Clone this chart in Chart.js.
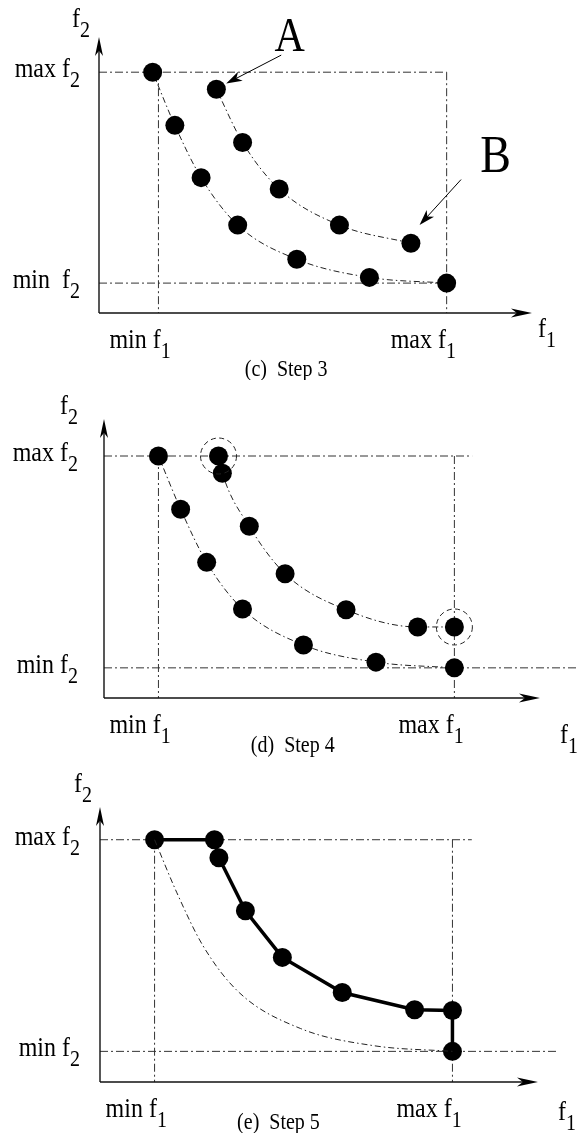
<!DOCTYPE html>
<html>
<head>
<meta charset="utf-8">
<script src="https://cdn.jsdelivr.net/npm/chart.js@4/dist/chart.umd.min.js"></script>
<style>
  html, body { margin: 0; padding: 0; background: #fff; }
  .panel { position: absolute; left: 0; }
</style>
</head>
<body>
<canvas id="step3" class="panel" style="top:0px" width="578" height="380"></canvas>
<canvas id="step4" class="panel" style="top:380px" width="578" height="380"></canvas>
<canvas id="step5" class="panel" style="top:760px" width="578" height="373"></canvas>
<script>
// Values are normalised: min f1 = 0, max f1 = 1, min f2 = 0, max f2 = 1
let step3LowerF1 = [-0.02, 0.057, 0.148, 0.275, 0.48, 0.732, 1.0];
let step3LowerF2 = [1.0, 0.748, 0.5, 0.275, 0.113, 0.027, 0.0];
let step3UpperF1 = [0.201, 0.292, 0.419, 0.628, 0.876];
let step3UpperF2 = [0.919, 0.667, 0.446, 0.275, 0.189];

let step4LowerF1 = [0.0, 0.075, 0.163, 0.284, 0.49, 0.735, 1.0];
let step4LowerF2 = [1.0, 0.749, 0.498, 0.278, 0.108, 0.027, 0.0];
let step4UpperF1 = [0.203, 0.216, 0.307, 0.428, 0.634, 0.876, 1.0];
let step4UpperF2 = [1.0, 0.919, 0.668, 0.444, 0.274, 0.193, 0.193];
let step4CircledF1 = [0.203, 1.0];
let step4CircledF2 = [1.0, 0.193];

let step5FrontF1 = [0.0, 0.201, 0.216, 0.305, 0.429, 0.63, 0.873, 1.0, 1.0];
let step5FrontF2 = [1.0, 1.0, 0.915, 0.664, 0.444, 0.278, 0.197, 0.193, 0.0];

let f1Marks = ['min f', 'max f'];   // at f1 = 0 and f1 = 1
let f2Marks = ['min  f', 'max f'];  // at f2 = 0 and f2 = 1
let captions = ['(c)  Step 3', '(d)  Step 4', '(e)  Step 5'];

// pointer arrows of step 3: [fromF1, fromF2, toF1, toF2]
let pointerA = [0.426, 1.081, 0.235, 0.946];
let pointerB = [1.05, 0.491, 0.906, 0.275];

const SERIF = '"Liberation Serif", "DejaVu Serif", serif';
const STRETCH = 1.15;  // the scanned text is a bit taller than Times

// layout of each panel, in canvas pixels
let panels = [
    { id: 'step3', height: 380, f1Px: [154, 452], f2Px: [288, 66], axisPx: [99, 313], tipPx: [532, 37],
      maxF2To: 1.0, minF2To: 1.0, f2Right: 80, f2Top: [72, 27], f1Right: [538, 337], captionF1: 0.443, captionY: 376,
      minF2Text: f2Marks[0] },
    { id: 'step4', height: 380, f1Px: [154, 460], f2Px: [293, 70], axisPx: [104, 318], tipPx: [540, 39],
      maxF2To: 1.06, minF2To: 1.45, f2Right: 78, f2Top: [60, 34], f1Right: [560, 363], captionF1: 0.454, captionY: 372,
      minF2Text: 'min f' },
    { id: 'step5', height: 373, f1Px: [150, 458], f2Px: [297, 74], axisPx: [100, 322], tipPx: [538, 47],
      maxF2To: 1.065, minF2To: 1.354, f2Right: 80, f2Top: [74, 32], f1Right: [558, 360], captionF1: 0.416, captionY: 369,
      minF2Text: 'min f' }
];

function toPoints(xs, ys) {
    return xs.map((x, i) => ({ x: x, y: ys[i] }));
}

function tallText(ctx, text, x, y) {
    ctx.save();
    ctx.translate(x, y);
    ctx.scale(1, STRETCH);
    ctx.fillText(text, 0, 0);
    ctx.restore();
}

function subText(ctx, text, sub, x, y, size, align) {
    let subSize = Math.round(size * 0.82);
    ctx.font = size + 'px ' + SERIF;
    let w = ctx.measureText(text).width;
    ctx.font = subSize + 'px ' + SERIF;
    let ws = ctx.measureText(sub).width;
    let left = align === 'right' ? x - w - ws : x;
    ctx.textAlign = 'left';
    ctx.textBaseline = 'alphabetic';
    ctx.font = size + 'px ' + SERIF;
    tallText(ctx, text, left, y);
    ctx.font = subSize + 'px ' + SERIF;
    tallText(ctx, sub, left + w, y + size * 0.42);
}

function arrowHead(ctx, x0, y0, x1, y1, len, half) {
    let a = Math.atan2(y1 - y0, x1 - x0);
    let c = Math.cos(a), s = Math.sin(a);
    ctx.beginPath();
    ctx.moveTo(x1, y1);
    ctx.lineTo(x1 - len * c - half * s, y1 - len * s + half * c);
    ctx.lineTo(x1 - len * 0.72 * c, y1 - len * 0.72 * s);
    ctx.lineTo(x1 - len * c + half * s, y1 - len * s - half * c);
    ctx.closePath();
    ctx.fill();
}

function line(ctx, x0, y0, x1, y1, dash, color, width) {
    ctx.save();
    ctx.strokeStyle = color;
    ctx.lineWidth = width;
    ctx.setLineDash(dash);
    ctx.beginPath();
    ctx.moveTo(x0, y0);
    ctx.lineTo(x1, y1);
    ctx.stroke();
    ctx.restore();
}

const guideDash = [8, 3, 2, 3];

let diagramPlugin = {
    id: 'diagram',
    beforeDatasetsDraw(chart) {
        let p = chart.options.plugins.diagram.panel;
        let ctx = chart.ctx;
        let xs = chart.scales.x, ys = chart.scales.y;
        let ox = p.axisPx[0], oy = p.axisPx[1];
        // guide lines at min / max of each objective
        let x0 = xs.getPixelForValue(0), x1 = xs.getPixelForValue(1);
        let y0 = ys.getPixelForValue(0), y1 = ys.getPixelForValue(1);
        line(ctx, ox, y1, xs.getPixelForValue(p.maxF2To), y1, guideDash, '#333', 1);
        line(ctx, ox, y0, xs.getPixelForValue(p.minF2To), y0, guideDash, '#333', 1);
        line(ctx, x0, y1, x0, oy, guideDash, '#333', 1);
        line(ctx, x1, y1, x1, oy, guideDash, '#333', 1);
        // axes with arrows
        line(ctx, ox, oy, p.tipPx[0] - 10, oy, [], '#111', 1.4);
        line(ctx, ox, oy, ox, p.tipPx[1] + 10, [], '#111', 1.4);
        ctx.fillStyle = '#000';
        arrowHead(ctx, ox, oy, p.tipPx[0], oy, 21, 4.5);
        arrowHead(ctx, ox, oy, ox, p.tipPx[1], 19, 4);
    },
    afterDatasetsDraw(chart) {
        let p = chart.options.plugins.diagram.panel;
        let idx = chart.options.plugins.diagram.index;
        let ctx = chart.ctx;
        let xs = chart.scales.x, ys = chart.scales.y;
        let oy = p.axisPx[1];
        ctx.save();
        ctx.fillStyle = '#000';
        // axis names
        subText(ctx, 'f', '2', p.f2Top[0], p.f2Top[1], 24, 'left');
        subText(ctx, 'f', '1', p.f1Right[0], p.f1Right[1], 24, 'left');
        // f2 marks
        subText(ctx, f2Marks[1], '2', p.f2Right, ys.getPixelForValue(1) + 5, 24, 'right');
        subText(ctx, p.minF2Text, '2', p.f2Right, ys.getPixelForValue(0) + 5, 24, 'right');
        // f1 marks
        subText(ctx, f1Marks[0], '1', xs.getPixelForValue(0) - 49, oy + 35, 24, 'left');
        subText(ctx, f1Marks[1], '1', xs.getPixelForValue(1) - 56, oy + 35, 24, 'left');
        // caption
        ctx.font = '20px ' + SERIF;
        ctx.textAlign = 'center';
        tallText(ctx, captions[idx], xs.getPixelForValue(p.captionF1), p.captionY);

        if (idx === 0) {
            [[pointerA, 'A', 0.455, 1.162, 42], [pointerB, 'B', 1.17, 0.595, 46]].forEach(([ptr, label, lx, ly, size]) => {
                let ax0 = xs.getPixelForValue(ptr[0]), ay0 = ys.getPixelForValue(ptr[1]);
                let ax1 = xs.getPixelForValue(ptr[2]), ay1 = ys.getPixelForValue(ptr[3]);
                line(ctx, ax0, ay0, ax1 + (ax0 - ax1) * 0.15, ay1 + (ay0 - ay1) * 0.15, [], '#000', 1);
                arrowHead(ctx, ax0, ay0, ax1, ay1, 16, 5);
                ctx.font = size + 'px ' + SERIF;
                ctx.textAlign = 'center';
                ctx.textBaseline = 'middle';
                tallText(ctx, label, xs.getPixelForValue(lx), ys.getPixelForValue(ly));
            });
        }
        if (idx === 1) {
            step4CircledF1.forEach((v, i) => {
                ctx.save();
                ctx.strokeStyle = '#222';
                ctx.lineWidth = 1;
                ctx.setLineDash([5, 3.5]);
                ctx.beginPath();
                ctx.arc(xs.getPixelForValue(v), ys.getPixelForValue(step4CircledF2[i]), 18, 0, Math.PI * 2);
                ctx.stroke();
                ctx.restore();
            });
        }
        ctx.restore();
    }
};

function curve(xs, ys, showPoints) {
    return {
        data: toPoints(xs, ys),
        showLine: true,
        borderColor: '#222',
        borderWidth: 1,
        borderDash: [6, 3, 1.5, 3],
        cubicInterpolationMode: 'monotone',
        pointRadius: showPoints ? 9.5 : 0,
        pointBackgroundColor: '#000',
        pointBorderWidth: 0,
        clip: false
    };
}

let datasetsByPanel = [
    [curve(step3LowerF1, step3LowerF2, true), curve(step3UpperF1, step3UpperF2, true)],
    [curve(step4LowerF1, step4LowerF2, true), curve(step4UpperF1, step4UpperF2, true)],
    [curve(step4LowerF1, step4LowerF2, false), {
        data: toPoints(step5FrontF1, step5FrontF2),
        showLine: true,
        borderColor: '#000',
        borderWidth: 3.5,
        tension: 0,
        pointRadius: 9.5,
        pointBackgroundColor: '#000',
        pointBorderWidth: 0,
        clip: false
    }]
];

panels.forEach((p, i) => {
    let unitX = p.f1Px[1] - p.f1Px[0];
    let unitY = p.f2Px[0] - p.f2Px[1];
    let yMax = p.f2Px[0] / unitY;
    new Chart(document.getElementById(p.id).getContext('2d'), {
        type: 'scatter',
        data: { datasets: datasetsByPanel[i] },
        options: {
            responsive: false,
            animation: false,
            events: [],
            layout: { padding: 0 },
            scales: {
                x: { type: 'linear', display: false, min: -p.f1Px[0] / unitX, max: (578 - p.f1Px[0]) / unitX },
                y: { type: 'linear', display: false, min: yMax - p.height / unitY, max: yMax }
            },
            plugins: {
                legend: { display: false },
                tooltip: { enabled: false },
                diagram: { panel: p, index: i }
            }
        },
        plugins: [diagramPlugin]
    });
});
</script>
</body>
</html>
